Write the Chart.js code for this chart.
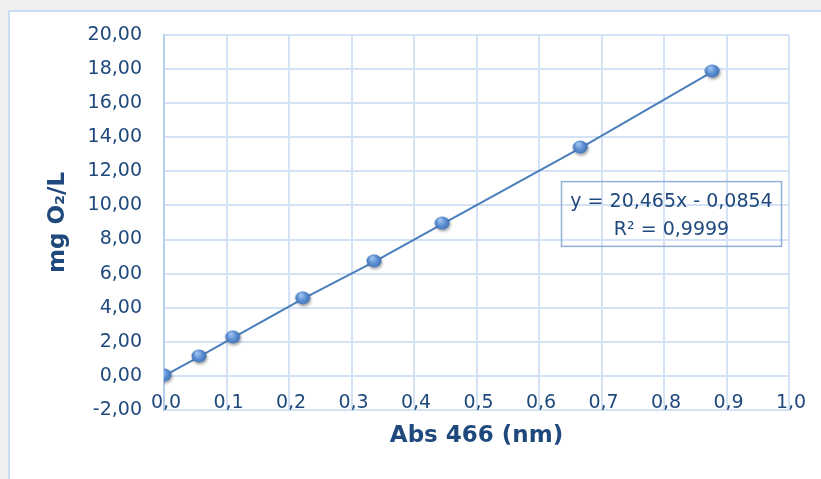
<!DOCTYPE html>
<html>
<head>
<meta charset="utf-8">
<script src="https://cdn.jsdelivr.net/npm/chart.js@4/dist/chart.umd.min.js"></script>
<style>
  html, body { margin: 0; padding: 0; background: #f0f0f0; }
  #wrap { width: 821px; height: 479px; position: relative; }
</style>
</head>
<body>
<div id="wrap"><canvas id="calibChart" width="821" height="479"></canvas></div>
<script>
// calibration points
const absValues = [0, 0.056, 0.110, 0.222, 0.336, 0.445, 0.666, 0.877];
const mgValues = [0, 1.11, 2.23, 4.52, 6.69, 8.91, 13.37, 17.83];

const xTickValues = [0, 0.1, 0.2, 0.3, 0.4, 0.5, 0.6, 0.7, 0.8, 0.9, 1.0];
const xTickLabels = ['0,0', '0,1', '0,2', '0,3', '0,4', '0,5', '0,6', '0,7', '0,8', '0,9', '1,0'];
const yTickLabels = ['-2,00', '0,00', '2,00', '4,00', '6,00', '8,00', '10,00', '12,00', '14,00', '16,00', '18,00', '20,00'];

const trendLines = ['y = 20,465x - 0,0854', 'R² = 0,9999'];

const textColor = '#1f497d';
const gridColor = '#d3e2f5';
const fontFamily = '"DejaVu Sans", sans-serif';

// shaded marker like the excel bubble points
const makeMarker = () => {
  const c = document.createElement('canvas');
  c.width = 24;
  c.height = 22;
  const g = c.getContext('2d');
  g.save();
  g.shadowColor = 'rgba(0,0,0,0.35)';
  g.shadowBlur = 3;
  g.shadowOffsetX = 1;
  g.shadowOffsetY = 2;
  const grad = g.createRadialGradient(10, 7, 1, 12, 10, 8);
  grad.addColorStop(0, '#9cc0ee');
  grad.addColorStop(0.5, '#5b8fd3');
  grad.addColorStop(1, '#3d6cb0');
  g.fillStyle = grad;
  g.beginPath();
  g.ellipse(12, 10, 7.5, 6.5, 0, 0, Math.PI * 2);
  g.fill();
  g.restore();
  return c;
};

const framePlugin = {
  id: 'frame',
  beforeDraw(chart) {
    const ctx = chart.ctx;
    ctx.save();
    ctx.fillStyle = '#f0f0f0';
    ctx.fillRect(0, 0, chart.width, chart.height);
    ctx.fillStyle = '#ffffff';
    ctx.fillRect(8, 10, chart.width, chart.height);
    ctx.strokeStyle = '#cadcf2';
    ctx.lineWidth = 2;
    ctx.beginPath();
    ctx.moveTo(9, chart.height);
    ctx.lineTo(9, 11);
    ctx.lineTo(chart.width, 11);
    ctx.stroke();
    ctx.restore();
  },
};

// excel puts the x labels on top of the lowest gridline, which the
// scale itself would clip, so they are written here from the x scale
const xLabelPlugin = {
  id: 'xLabels',
  afterDraw(chart) {
    const ctx = chart.ctx;
    const x = chart.scales.x;
    ctx.save();
    ctx.fillStyle = textColor;
    ctx.font = '19px ' + fontFamily;
    ctx.textAlign = 'center';
    ctx.textBaseline = 'middle';
    xTickValues.forEach((v, i) => {
      ctx.fillText(xTickLabels[i], x.getPixelForValue(v) + 2, chart.chartArea.bottom - 7);
    });
    ctx.restore();
  },
};

const equationPlugin = {
  id: 'equation',
  afterDraw(chart) {
    const ctx = chart.ctx;
    const x = chart.scales.x;
    const y = chart.scales.y;
    const left = x.getPixelForValue(0.636);
    const right = x.getPixelForValue(0.988);
    const top = y.getPixelForValue(11.4);
    const bottom = y.getPixelForValue(7.6);
    ctx.save();
    ctx.strokeStyle = '#93b0d6';
    ctx.lineWidth = 1.5;
    ctx.strokeRect(left, top, right - left, bottom - top);
    ctx.fillStyle = textColor;
    ctx.font = '19px ' + fontFamily;
    ctx.textAlign = 'center';
    ctx.textBaseline = 'middle';
    const cx = (left + right) / 2;
    ctx.fillText(trendLines[0], cx, top + 20);
    ctx.fillText(trendLines[1], cx, top + 48);
    ctx.restore();
  },
};

const createChart = () => {
  const ctx = document.getElementById('calibChart').getContext('2d');
  const points = absValues.map((v, i) => ({ x: v, y: mgValues[i] }));

  new Chart(ctx, {
    type: 'scatter',
    data: {
      datasets: [{
        data: points,
        showLine: true,
        borderColor: '#4a7ebb',
        borderWidth: 2,
        pointStyle: makeMarker(),
        pointRadius: 7,
      }],
    },
    options: {
      responsive: false,
      animation: false,
      events: [],
      layout: { padding: { left: 40, top: 35, right: 32, bottom: 25 } },
      plugins: { legend: { display: false }, tooltip: { enabled: false } },
      scales: {
        x: {
          type: 'linear',
          min: 0,
          max: 1,
          afterFit: (s) => { s.height = 44; },
          grid: { color: gridColor, lineWidth: 2, drawTicks: false },
          border: { color: gridColor, width: 2 },
          ticks: { stepSize: 0.1, display: false },
          title: {
            display: true,
            text: 'Abs 466 (nm)',
            color: textColor,
            font: { family: fontFamily, size: 23, weight: 'bold' },
          },
        },
        y: {
          min: -2,
          max: 20,
          afterFit: (s) => { s.width = 124; },
          grid: { color: gridColor, lineWidth: 2, drawTicks: false },
          border: { color: '#b7cfee', width: 2 },
          ticks: {
            stepSize: 2,
            padding: 22,
            color: textColor,
            font: { family: fontFamily, size: 19 },
            callback: (v, i) => yTickLabels[i],
          },
          title: {
            display: true,
            text: 'mg O₂/L',
            color: textColor,
            font: { family: fontFamily, size: 23, weight: 'bold' },
          },
        },
      },
    },
    plugins: [framePlugin, xLabelPlugin, equationPlugin],
  });
};

createChart();
</script>
</body>
</html>
